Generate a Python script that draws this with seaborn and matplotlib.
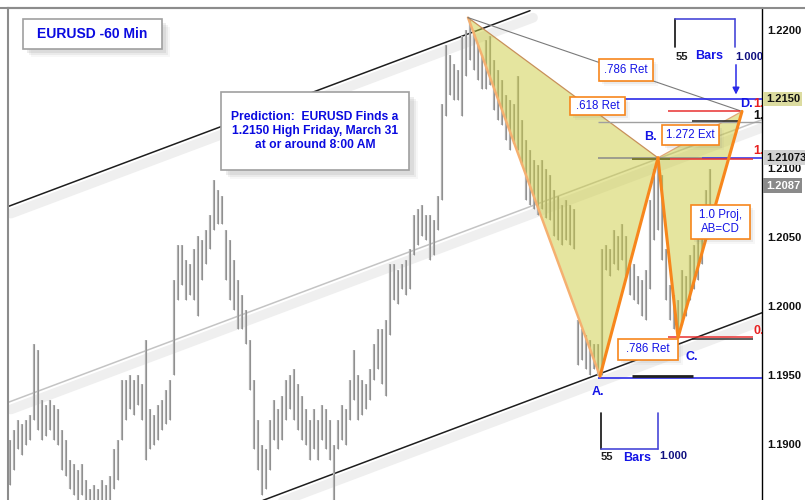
import numpy as np
import pandas as pd
import matplotlib
matplotlib.use("Agg")
import matplotlib.pyplot as plt
import matplotlib.transforms as mtrans
from matplotlib.patches import Rectangle, Polygon
from matplotlib.lines import Line2D
import seaborn as sns

# ---------------- data ----------------
bar_high = [1.1903, 1.1910, 1.1917, 1.1914, 1.1917, 1.1921, 1.1972, 1.1968, 1.1932, 1.1928,
            1.1932, 1.1928, 1.1925, 1.1910, 1.1903, 1.1888, 1.1885, 1.1881, 1.1885, 1.1874,
            1.1867, 1.1870, 1.1867, 1.1874, 1.1870, 1.1877, 1.1896, 1.1903, 1.1946, 1.1946,
            1.1950, 1.1946, 1.1950, 1.1943, 1.1975, 1.1925, 1.1921, 1.1928, 1.1932, 1.1939,
            1.1946, 1.2019, 1.2044, 1.2044, 1.2033, 1.2030, 1.2041, 1.2051, 1.2048, 1.2055,
            1.2066, 1.2091, 1.2084, 1.2080, 1.2055, 1.2048, 1.2033, 1.2019, 1.2008, 1.1997,
            1.1975, 1.1946, 1.1917, 1.1899, 1.1896, 1.1917, 1.1932, 1.1925, 1.1935, 1.1946,
            1.1950, 1.1954, 1.1943, 1.1935, 1.1925, 1.1917, 1.1925, 1.1917, 1.1928, 1.1925,
            1.1917, 1.1899, 1.1917, 1.1928, 1.1925, 1.1946, 1.1968, 1.1950, 1.1946, 1.1943,
            1.1954, 1.1972, 1.1983, 1.1983, 1.1990, 1.2030, 1.2030, 1.2026, 1.2030, 1.2033,
            1.2041, 1.2066, 1.2070, 1.2073, 1.2066, 1.2066, 1.2062, 1.2080, 1.2146, 1.2189,
            1.2182, 1.2175, 1.2171, 1.2196, 1.2200, 1.2207, 1.2200, 1.2189, 1.2182, 1.2193,
            1.2196, 1.2178, 1.2171, 1.2164, 1.2153, 1.2149, 1.2146, 1.2167, 1.2135, 1.2120,
            1.2113, 1.2106, 1.2102, 1.2106, 1.2099, 1.2095, 1.2084, 1.2080, 1.2073, 1.2077,
            1.2073, 1.2070, 1.1990, 1.1983, 1.1979, 1.1975, 1.1972, 1.1972, 1.2041, 1.2044,
            1.2041, 1.2055, 1.2051, 1.2059, 1.2051, 1.2033, 1.2030, 1.2022, 1.2019, 1.2026,
            1.2077, 1.2099, 1.2106, 1.2095, 1.2041, 1.2015, 1.2008, 1.2004, 1.2026, 1.2022,
            1.2037, 1.2044, 1.2051, 1.2066, 1.2084, 1.2099]
bar_low = [1.1870, 1.1881, 1.1896, 1.1892, 1.1899, 1.1903, 1.1917, 1.1910, 1.1903, 1.1906,
           1.1910, 1.1903, 1.1899, 1.1881, 1.1877, 1.1867, 1.1863, 1.1859, 1.1863, 1.1856,
           1.1852, 1.1852, 1.1852, 1.1856, 1.1856, 1.1859, 1.1867, 1.1874, 1.1903, 1.1917,
           1.1925, 1.1921, 1.1928, 1.1917, 1.1888, 1.1896, 1.1899, 1.1903, 1.1910, 1.1914,
           1.1917, 1.1950, 1.2004, 1.2015, 1.2004, 1.2008, 1.2004, 1.1993, 1.2019, 1.2030,
           1.2041, 1.2055, 1.2059, 1.2059, 1.2019, 1.2004, 1.1997, 1.1983, 1.1983, 1.1972,
           1.1939, 1.1896, 1.1881, 1.1863, 1.1867, 1.1881, 1.1903, 1.1896, 1.1903, 1.1917,
           1.1925, 1.1917, 1.1910, 1.1903, 1.1899, 1.1888, 1.1896, 1.1888, 1.1903, 1.1896,
           1.1888, 1.1859, 1.1896, 1.1903, 1.1899, 1.1917, 1.1932, 1.1917, 1.1921, 1.1925,
           1.1932, 1.1946, 1.1954, 1.1943, 1.1935, 1.1979, 1.2004, 1.2001, 1.2012, 1.2008,
           1.2012, 1.2037, 1.2044, 1.2051, 1.2048, 1.2033, 1.2037, 1.2055, 1.2077, 1.2138,
           1.2153, 1.2149, 1.2149, 1.2138, 1.2167, 1.2178, 1.2171, 1.2164, 1.2157, 1.2157,
           1.2160, 1.2142, 1.2135, 1.2131, 1.2120, 1.2113, 1.2117, 1.2113, 1.2102, 1.2077,
           1.2073, 1.2070, 1.2066, 1.2070, 1.2064, 1.2062, 1.2051, 1.2048, 1.2044, 1.2048,
           1.2044, 1.2041, 1.1957, 1.1961, 1.1954, 1.1950, 1.1954, 1.1950, 1.1950, 1.2026,
           1.2022, 1.2030, 1.2026, 1.2033, 1.2022, 1.2008, 1.2004, 1.2001, 1.1993, 1.1990,
           1.2012, 1.2048, 1.2055, 1.2033, 1.2004, 1.1990, 1.1983, 1.1978, 1.1986, 1.1993,
           1.2004, 1.2012, 1.2019, 1.2030, 1.2048, 1.2066]

last_price = 1.2087
pred_price = 1.2150
b_level = 1.21073
d_level = 1.2141
d_level2 = 1.2133
c_level = 1.19775
c_level2 = 1.1976
a_level = 1.1948

upper_x, upper_y = [-0.5, 130.0], [1.2072, 1.2214]
mid_x, mid_y = [-0.5, 188.0], [1.1930, 1.2135]
low_x, low_y = [63.25, 188.0], [1.1859, 1.1995]

pat_names = ["X", "A", "B", "C", "D"]
pat_x = [114.5, 147.5, 162.0, 167.0, 183.0]
pat_y = [1.2209, 1.1949, 1.21073, 1.1977, 1.2141]

y_ticks = [1.1900, 1.1950, 1.2000, 1.2050, 1.2100, 1.2150, 1.2200]
title_text = "EURUSD -60 Min"
pred_text = "Prediction:  EURUSD Finds a\n1.2150 High Friday, March 31\nat or around 8:00 AM"

# ---------------- figure ----------------
sns.set_style("white")
plt.rcParams['font.family'] = ['Liberation Sans', 'DejaVu Sans']

W, H = 805, 500
fig = plt.figure(figsize=(W / 100, H / 100), dpi=100)
fig.patch.set_facecolor("white")
ax = fig.add_axes([8 / W, 0, 754 / W, 492 / H])
ax.set_xlim(-0.5, 188)
ax.set_ylim(1.185925, 1.221595)

BLUE = "#1414e6"
ORANGE = "#f7861c"


def fx(x):
    return x / W


def fy(y):
    return 1 - y / H


# channel line shadows + lines
shadow = mtrans.offset_copy(ax.transData, fig=fig, x=3, y=-7, units="dots")
for xs, ys in [(upper_x, upper_y), (mid_x, mid_y), (low_x, low_y)]:
    ax.plot(xs, ys, color="#efefef", lw=7, solid_capstyle="round", transform=shadow, zorder=0.5)

chan = pd.DataFrame({"x": upper_x + mid_x + low_x,
                     "y": upper_y + mid_y + low_y,
                     "line": ["upper"] * 2 + ["mid"] * 2 + ["low"] * 2})
sns.lineplot(data=chan, x="x", y="y", hue="line", units="line", estimator=None,
             palette={"upper": "#1e1e1e", "mid": "#c4c4c4", "low": "#1e1e1e"},
             linewidth=1.1, legend=False, ax=ax, zorder=1)

# price bars
bars = pd.DataFrame({"bar": np.arange(len(bar_high)), "high": bar_high, "low": bar_low})
ax.vlines(bars["bar"], bars["low"], bars["high"], color="#b0b0b0", lw=1.6, zorder=2)
ax.vlines(bars["bar"], bars["low"], bars["high"], color="#8a8a8a", lw=0.6, zorder=2.1)

# harmonic pattern
P = dict(zip(pat_names, zip(pat_x, pat_y)))
for tri in (["X", "A", "B"], ["B", "C", "D"]):
    ax.add_patch(Polygon([P[k] for k in tri], closed=True, fc="#cccc40", ec="none",
                         alpha=0.5, zorder=3))


def seg(a, b, **kw):
    ax.plot([P[a][0], P[b][0]], [P[a][1], P[b][1]], **kw)


seg("X", "A", color="#f5b070", lw=1.8, zorder=4)
seg("X", "B", color="#c8905a", lw=0.9, zorder=4)
seg("B", "D", color="#e0a878", lw=0.9, zorder=4)
seg("X", "D", color="#7a7a7a", lw=0.8, zorder=4)
for a, b in [("A", "B"), ("B", "C"), ("C", "D")]:
    seg(a, b, color=ORANGE, lw=2.2, zorder=5, solid_capstyle="round")

# horizontal levels
ax.hlines(pred_price, 146.75, 188, color="#2a2ae8", lw=1.2, zorder=4)
ax.hlines(d_level, 164.5, 182.5, color="#e83030", lw=1.1, zorder=4)
ax.hlines(d_level2, 147, 188, color="#a0a0a0", lw=1.0, zorder=4)
ax.hlines(d_level2 + 0.00012, 170.5, 182.5, color="#303030", lw=1.2, zorder=4)
ax.hlines(b_level, 147, 173, color="#8a8a8a", lw=1.1, zorder=4)
ax.hlines(b_level, 173, 188, color="#2a2ae8", lw=1.1, zorder=4)
ax.hlines(b_level - 0.0001, 164.5, 185.75, color="#e83030", lw=1.1, zorder=4)
ax.hlines(b_level - 0.0001, 155.5, 165, color="#7a7a30", lw=1.4, zorder=4)
ax.hlines(c_level, 164.5, 185.75, color="#e83030", lw=1.1, zorder=4)
ax.hlines(c_level2, 170.5, 185.75, color="#303030", lw=1.1, zorder=4)
ax.hlines(a_level, 147, 188, color="#2a2ae8", lw=1.2, zorder=4)
ax.hlines(a_level + 0.0001, 155.5, 170.75, color="#202020", lw=2.0, zorder=4)


# boxes
def box(x0, y0, x1, y1, text, ec, fs, weight="normal", color=BLUE, shadow_px=5, lw=1.2):
    for k, a in [(shadow_px + 2, 0.06), (shadow_px, 0.10), (shadow_px - 2, 0.14)]:
        ax.add_patch(Rectangle((fx(x0 + k), fy(y1 + k)), (x1 - x0) / W, (y1 - y0) / H,
                               transform=fig.transFigure, fc="#808080", ec="none",
                               alpha=a, zorder=7, clip_on=False))
    ax.add_patch(Rectangle((fx(x0), fy(y1)), (x1 - x0) / W, (y1 - y0) / H,
                           transform=fig.transFigure, fc="white", ec=ec, lw=lw,
                           zorder=8, clip_on=False))
    ax.text(fx((x0 + x1) / 2), fy((y0 + y1) / 2), text, transform=fig.transFigure,
            ha="center", va="center", fontsize=fs, weight=weight, color=color,
            zorder=9, linespacing=1.25, clip_on=False)


box(23, 19, 162, 49, title_text, "#a0a0a0", 10, "bold", "#0a0ae0", 6)
box(221, 92, 409, 170, pred_text, "#a0a0a0", 8.7, "bold", "#0a0ae0", 7)
box(599, 59, 653, 81, ".786 Ret", ORANGE, 8.3, shadow_px=3)
box(570, 97, 625, 115, ".618 Ret", ORANGE, 8.3, shadow_px=3)
box(662, 125, 719, 145, "1.272 Ext", ORANGE, 8.3, shadow_px=3)
box(691, 205, 750, 239, "1.0 Proj,\nAB=CD", ORANGE, 8.3, shadow_px=3)
box(618, 339, 678, 360, ".786 Ret", ORANGE, 8.3, shadow_px=3)

# point labels
for name, (px, py) in [("A.", (598, 392)), ("B.", (650, 137)), ("C.", (692, 357)), ("D.", (746, 104))]:
    ax.text(fx(px), fy(py), name, transform=fig.transFigure, ha="center", va="center",
            fontsize=9, weight="bold", color=BLUE, zorder=9)


# small level numbers clipped by the price axis
def clipped(x, y, s, color, fs=9):
    ax.text(fx(x), fy(y), s, transform=fig.transFigure, ha="left", va="center",
            fontsize=fs, weight="bold", color=color, zorder=9, clip_on=True)


clipped(753, 104, "1.", "#e82020")
clipped(753, 116, "1.", "#101010")
clipped(753, 151, "1.", "#e82020")
clipped(753, 331, "0.", "#e82020")


# bar-count brackets
def fline(xs, ys, color, lw=1.2):
    ax.add_line(Line2D([fx(v) for v in xs], [fy(v) for v in ys], transform=fig.transFigure,
                       color=color, lw=lw, zorder=9, clip_on=False))


for (x0, x1, ytop, ybot, ybar) in [(675, 735, 19, 47, 19), (601, 658, 413, 449, 449)]:
    fline([x0, x0], [ytop, ybot], "#101010")
    fline([x1, x1], [ytop, ybot], "#4848d8")
    fline([x0, x1], [ybar, ybar], "#4848d8")

for (x, y) in [(682, 57), (607, 457)]:
    ax.text(fx(x), fy(y), "55", transform=fig.transFigure, ha="center", va="center",
            fontsize=8, weight="bold", color="#202020", zorder=9)
for (x, y) in [(709, 56), (637, 458)]:
    ax.text(fx(x), fy(y), "Bars", transform=fig.transFigure, ha="center", va="center",
            fontsize=9, weight="bold", color=BLUE, zorder=9)
for (x, y) in [(735, 57), (659, 456)]:
    ax.text(fx(x), fy(y), "1.000", transform=fig.transFigure, ha="left", va="center",
            fontsize=8, weight="bold", color="#101080", zorder=9, clip_on=True)

ax.annotate("", xy=(181.5, pred_price + 0.00012), xycoords="data",
            xytext=(fx(736), fy(62)), textcoords="figure fraction",
            arrowprops=dict(arrowstyle="-|>", color="#2a2ae8", lw=1.1, mutation_scale=10),
            zorder=9)

# axes styling
ax.spines["bottom"].set_visible(False)
ax.spines["top"].set_color("#8c8c8c")
ax.spines["top"].set_linewidth(1.5)
ax.spines["left"].set_color("#8c8c8c")
ax.spines["left"].set_linewidth(1.5)
ax.spines["right"].set_color("#000000")
ax.spines["right"].set_linewidth(1.0)
fig.add_artist(Line2D([0, 1], [fy(7.5), fy(7.5)], color="#8c8c8c", lw=1.5))

ax.set_xticks([])
ax.yaxis.tick_right()
ax.set_yticks(y_ticks)
ax.set_yticklabels(["" if v == pred_price else f"{v:.4f}" for v in y_ticks],
                   fontsize=8, fontweight="bold", color="#101010")
ax.tick_params(axis="y", length=0, pad=4)
ax.set_xlabel("")
ax.set_ylabel("")

tr = mtrans.blended_transform_factory(ax.transAxes, ax.transData)
for val, txt, fc, col in [(pred_price, "1.2150", "#dcdca0", "#101010"),
                          (b_level, "1.21073", "#d2d2d2", "#101010"),
                          (last_price, "1.2087", "#8a8a8a", "white")]:
    ax.text(1.005, val, txt, transform=tr, ha="left", va="center", fontsize=8,
            fontweight="bold", color=col, zorder=12, clip_on=False,
            bbox=dict(boxstyle="square,pad=0.22", fc=fc, ec="none"))

fig.savefig("out.png", dpi=100, facecolor="white")
